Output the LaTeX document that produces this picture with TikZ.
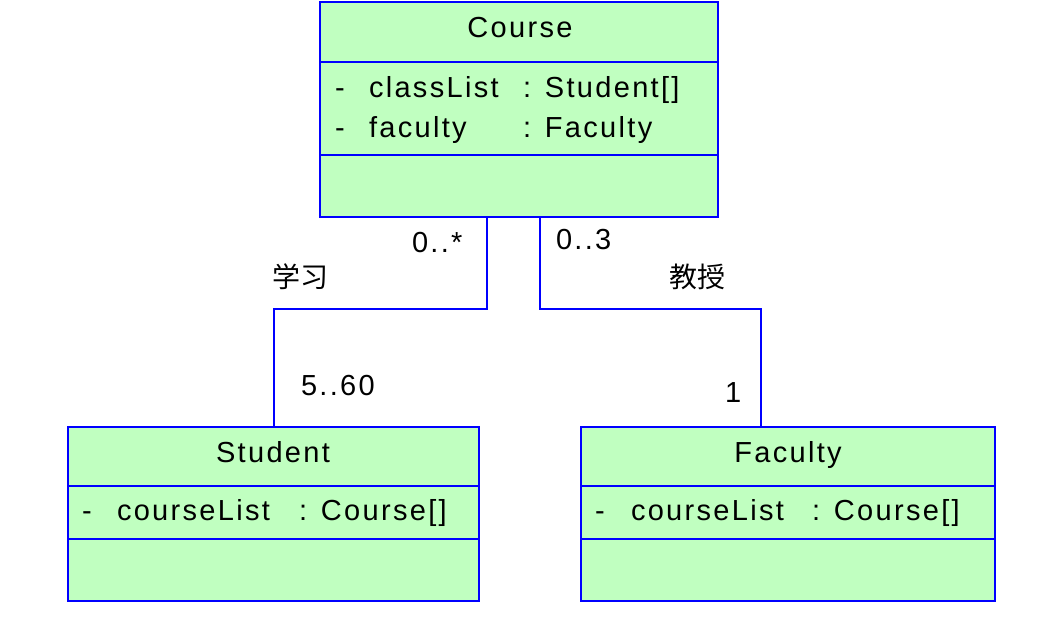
\documentclass[tikz,border=0pt]{standalone}
\usepackage{fontspec}
\setmainfont[LetterSpace=8]{Liberation Sans}
\newfontfamily\cjk{Noto Sans CJK SC}
\usetikzlibrary{positioning}
\definecolor{clsfill}{HTML}{C0FFC0}
\definecolor{clsline}{HTML}{0000FF}
\tikzset{
  classbox/.style={draw=clsline, fill=clsfill, line width=1.1pt, inner sep=0pt, outer sep=0pt, rectangle},
  divider/.style={draw=clsline, line width=1.1pt},
  conn/.style={draw=clsline, line width=1.1pt},
  txt/.style={inner sep=0pt, outer sep=0pt, font=\fontsize{29}{32}\selectfont},
  cjktxt/.style={inner sep=0pt, outer sep=0pt, font=\cjk\fontsize{28}{32}\selectfont},
}
\begin{document}
\begin{tikzpicture}[x=1pt,y=-1pt]
\useasboundingbox (0,0) rectangle (1057,625);
% Course
\node[classbox, minimum width=398pt, minimum height=215pt] (course) at (519,109.5) {};
\draw[divider] ([yshift=-60pt]course.north west) -- ([yshift=-60pt]course.north east);
\draw[divider] ([yshift=-153pt]course.north west) -- ([yshift=-153pt]course.north east);
\node[txt, anchor=base] (ctitle) at (520,37) {Course};
\node[txt, anchor=base west] (cm1) at (335,97) {-};
\node[txt, anchor=base west] (ca1) at (369,97) {classList};
\node[txt, anchor=base west] (ct1) at (523,97) {: Student[]};
\node[txt, anchor=base west] (cm2) at (335,137) {-};
\node[txt, anchor=base west] (ca2) at (369,137) {faculty};
\node[txt, anchor=base west] (ct2) at (523,137) {: Faculty};
% Student
\node[classbox, minimum width=411pt, minimum height=174pt] (student) at (273.5,514) {};
\draw[divider] ([yshift=-59pt]student.north west) -- ([yshift=-59pt]student.north east);
\draw[divider] ([yshift=-112pt]student.north west) -- ([yshift=-112pt]student.north east);
\node[txt, anchor=base] (stitle) at (273,462) {Student};
\node[txt, anchor=base west] (sm1) at (82,520) {-};
\node[txt, anchor=base west] (sa1) at (117,520) {courseList};
\node[txt, anchor=base west] (st1) at (299,520) {: Course[]};
% Faculty
\node[classbox, minimum width=414pt, minimum height=174pt] (faculty) at (788,514) {};
\draw[divider] ([yshift=-59pt]faculty.north west) -- ([yshift=-59pt]faculty.north east);
\draw[divider] ([yshift=-112pt]faculty.north west) -- ([yshift=-112pt]faculty.north east);
\node[txt, anchor=base] (ftitle) at (788,462) {Faculty};
\node[txt, anchor=base west] (fm1) at (595,520) {-};
\node[txt, anchor=base west] (fa1) at (631,520) {courseList};
\node[txt, anchor=base west] (ft1) at (812,520) {: Course[]};
% connectors
\draw[conn] ([xshift=167pt]course.south west) -- ++(0,92) -| ([xshift=0.5pt]student.north);
\draw[conn] ([xshift=220pt]course.south west) -- ++(0,92) -| ([xshift=-27pt]faculty.north);
% labels
\node[txt, anchor=base west] (l1) at (412,252) {0..*};
\node[cjktxt, anchor=base west] (l2) at (272,287) {学习};
\node[txt, anchor=base west] (l3) at (301,395) {5..60};
\node[txt, anchor=base west] (l4) at (556,249) {0..3};
\node[cjktxt, anchor=base west] (l5) at (669,287) {教授};
\node[txt, anchor=base west] (l6) at (725,402) {1};
\end{tikzpicture}
\end{document}
